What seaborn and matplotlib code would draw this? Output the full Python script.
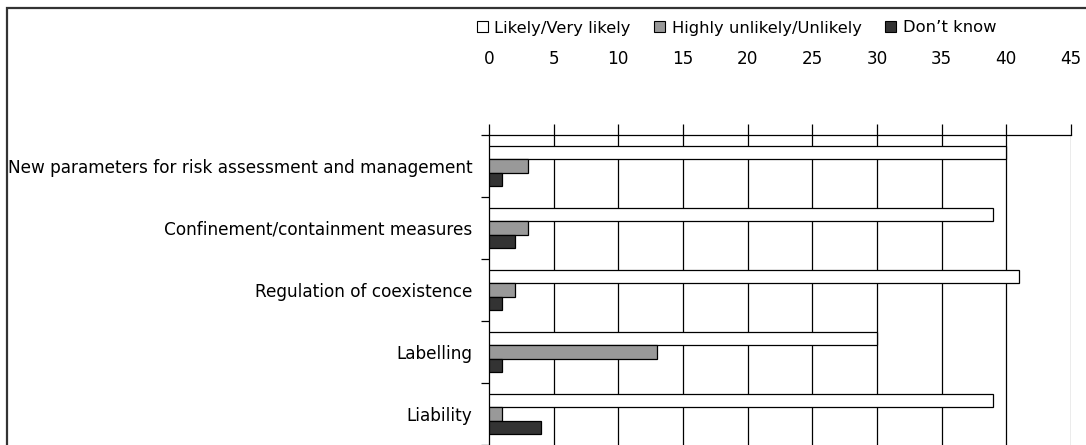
import matplotlib
matplotlib.use("Agg")
import matplotlib.pyplot as plt
import seaborn as sns
import pandas as pd
from matplotlib.patches import Rectangle, Patch

categories = [
    "New parameters for risk assessment and management",
    "Confinement/containment measures",
    "Regulation of coexistence",
    "Labelling",
    "Liability",
]
series_names = ["Likely/Very likely", "Highly unlikely/Unlikely", "Don\u2019t know"]
likely = [40, 39, 41, 30, 39]
unlikely = [3, 3, 2, 13, 1]
dont_know = [1, 2, 1, 1, 4]
x_ticks = [0, 5, 10, 15, 20, 25, 30, 35, 40, 45]
colors = ["#ffffff", "#999999", "#333333"]

sns.set_theme(style="white")
plt.rcParams["font.family"] = ["DejaVu Sans"]
plt.rcParams["text.color"] = "#000000"
FS = 12.15
LFS = 11.8

rows = []
for cat, a, b, c in zip(categories, likely, unlikely, dont_know):
    rows.append((cat, series_names[0], a))
    rows.append((cat, series_names[1], b))
    rows.append((cat, series_names[2], c))
df = pd.DataFrame(rows, columns=["category", "series", "value"])

fig = plt.figure(figsize=(10.86, 4.45), dpi=100)
ax = fig.add_axes([489 / 1086, 0.0, 582 / 1086, 310 / 445])

sns.barplot(data=df, y="category", x="value", hue="series", order=categories,
            hue_order=series_names, palette=colors, orient="h", width=0.65,
            edgecolor="#000000", linewidth=0.9, ax=ax, legend=False, zorder=3)

ax.set_xlim(0, 45)
ax.set_ylim(len(categories) - 0.5, -0.5)
ax.set_xticks(x_ticks)
ax.xaxis.tick_top()
ax.tick_params(axis="x", top=True, bottom=False, direction="out", length=8,
               width=0.9, color="#000000", pad=40, labelsize=FS, labelcolor="#000000")
for x in x_ticks[1:]:
    ax.axvline(x, color="#000000" if x < 45 else "#666666", lw=0.9, zorder=1)

ax.set_yticks(range(len(categories)))
ax.set_yticklabels(categories)
ax.set_yticks([i - 0.5 for i in range(len(categories) + 1)], minor=True)
ax.tick_params(axis="y", which="major", length=0, pad=12, labelsize=FS, labelcolor="#000000")
ax.tick_params(axis="y", which="minor", left=True, length=6, width=0.9, color="#000000")
ax.set_xlabel("")
ax.set_ylabel("")

for side in ["right", "bottom"]:
    ax.spines[side].set_visible(False)
for side in ["top", "left"]:
    ax.spines[side].set_visible(True)
    ax.spines[side].set_color("#000000")
    ax.spines[side].set_linewidth(0.9)

handles = [Patch(facecolor=c, edgecolor="#000000", linewidth=0.8) for c in colors]
fig.legend(handles, series_names, loc="center left", bbox_to_anchor=(477 / 1086, 1 - 28 / 445),
           ncol=3, frameon=False, fontsize=LFS, handlelength=0.65, handleheight=0.65,
           handletextpad=0.4, columnspacing=1.45, borderaxespad=0, borderpad=0)

fig.patches.append(Rectangle((7 / 1086, -0.1), 1.2, 1 - 8 / 445 + 0.1, transform=fig.transFigure,
                             fill=False, edgecolor="#333333", linewidth=1.6, zorder=0))

fig.savefig("out.png", dpi=100)
